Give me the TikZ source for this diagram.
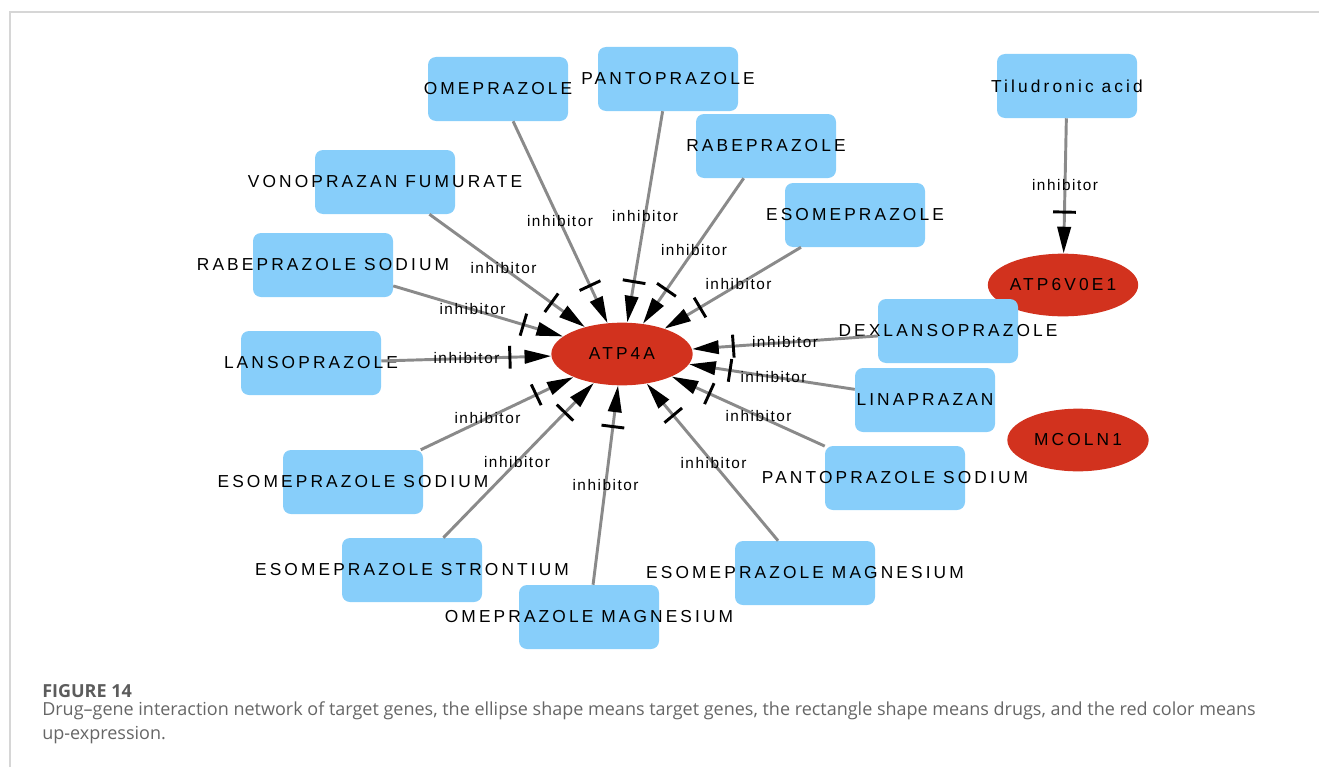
\documentclass[tikz,border=0pt]{standalone}
\usepackage{fontspec}
\setmainfont{Open Sans}
\newfontfamily\netfont[LetterSpace=18]{Liberation Sans}
\newfontfamily\inhfont[LetterSpace=10]{Liberation Sans}
\usetikzlibrary{arrows.meta, shapes.geometric, calc, decorations.markings}
\definecolor{drugblue}{HTML}{87CEFA}
\definecolor{genered}{HTML}{D2321E}
\definecolor{edgegrey}{HTML}{8A8A8A}
\definecolor{capgrey}{HTML}{666666}
\definecolor{framegrey}{HTML}{D6D6D6}
\tikzset{
  every picture/.style={x=0.75pt, y=-0.75pt},
  drug/.style={fill=drugblue, rounded corners=6pt, minimum width=105pt, minimum height=48pt, inner sep=0pt},
  drugtext/.style={font=\netfont\fontsize{13}{15}\selectfont, inner sep=0pt},
  gene/.style={ellipse, fill=genered, minimum width=106pt, minimum height=47pt, inner sep=0pt,
               font=\netfont\fontsize{13}{15}\selectfont},
  inh/.style={draw=edgegrey, line width=2.2pt, -{Triangle[length=20pt, width=10pt, color=black]},
              postaction={decorate}, decoration={markings,
              mark=at position -31pt with {\draw[-, black, line width=2.2pt] (0,-8.6pt) -- (0,8.6pt);}}},
  inhtext/.style={font=\inhfont\fontsize{11.5}{13}\selectfont, inner sep=0pt},
  frame/.style={draw=framegrey, line width=1.5pt},
}
\begin{document}
\begin{tikzpicture}
  \useasboundingbox (0,0) rectangle (1319,767);
  \draw[frame] (10,767) |- (1319,12);
  % target genes
  \node[gene] (atp4a) at (622,354) {ATP4A};
  \node[gene] (atp6) at (1063,285) {ATP6V0E1};
  \node[gene] (mcoln) at (1078,440) {MCOLN1};
  % drugs acting on ATP4A
  \foreach \n/\x/\y/\lab in {omep/498/89/OMEPRAZOLE, panto/668/79/PANTOPRAZOLE,
                              rabe/766/146/RABEPRAZOLE, esome/855/215/ESOMEPRAZOLE,
                              vono/385/182/VONOPRAZAN FUMURATE, rabesod/323/265/RABEPRAZOLE SODIUM,
                              lanso/311/363/LANSOPRAZOLE, esomesod/353/482/ESOMEPRAZOLE SODIUM,
                              esomestr/412/570/ESOMEPRAZOLE STRONTIUM, omepmag/589/617/OMEPRAZOLE MAGNESIUM,
                              esomemag/805/573/ESOMEPRAZOLE MAGNESIUM, pantosod/895/478/PANTOPRAZOLE SODIUM,
                              lina/925/400/LINAPRAZAN, dexlan/948/331/DEXLANSOPRAZOLE}
    { \node[drug, label={[drugtext]center:\lab}] (\n) at (\x,\y) {};
      \draw[inh] (\n) -- (atp4a);
      \node[inhtext] (l\n) at ($(\n)!0.5!(atp4a)$) {inhibitor}; }
  % drug acting on ATP6V0E1
  \node[drug, label={[drugtext]center:Tiludronic acid}] (tilu) at (1067,86) {};
  \draw[inh] (tilu) -- (atp6);
  \node[inhtext] (ltilu) at ($(tilu)!0.5!(atp6)$) {inhibitor};
  % caption
  \node[anchor=base west, font=\bfseries\fontsize{13.5}{16}\selectfont, text=capgrey!90!black, inner sep=0pt] (figno)
    at (42,697) {FIGURE 14};
  \node[anchor=base west, font=\fontsize{13.5}{18}\selectfont, text=capgrey, align=left, inner sep=0pt] (caption)
    at (42,739) {Drug--gene interaction network of target genes, the ellipse shape means target genes, the rectangle shape means drugs, and the red color means\\up-expression.};
\end{tikzpicture}
\end{document}
